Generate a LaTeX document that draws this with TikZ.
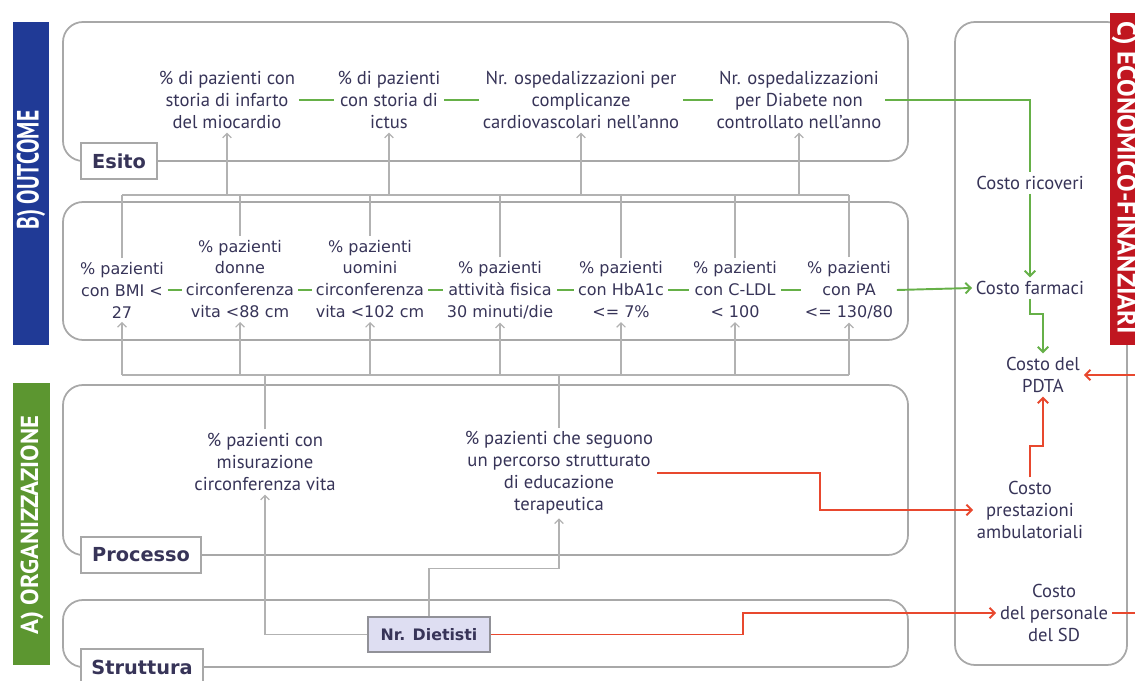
\documentclass[tikz,border=0pt]{standalone}
\usepackage{fontspec}
\setmainfont{PT Sans}
\newfontfamily\verdfont{DejaVu Sans}
\usepackage{xcolor}
\definecolor{pdNavy}{RGB}{55,52,88}
\definecolor{pdBlue}{RGB}{32,58,150}
\definecolor{pdGreen}{RGB}{92,150,48}
\definecolor{pdRed}{RGB}{192,22,32}
\definecolor{lnGreen}{RGB}{102,176,72}
\definecolor{lnRed}{RGB}{232,72,46}
\definecolor{lnGray}{RGB}{178,178,178}
\definecolor{boxGray}{RGB}{168,168,168}
\definecolor{dietFill}{RGB}{222,222,242}
\usetikzlibrary{arrows.meta, positioning, calc}

\tikzset{
  kpi/.style={font=\fontsize{10.6}{12.5}\selectfont, text=pdNavy, align=center, inner sep=2pt},
  kpimid/.style={font=\verdfont\fontsize{9.1}{12.5}\selectfont, text=pdNavy, align=center, inner sep=2pt},
  tag/.style={draw=boxGray, line width=0.8pt, fill=white, font=\verdfont\bfseries\fontsize{11}{12}\selectfont,
              text=pdNavy, minimum height=0.72cm, inner sep=2pt},
  bartext/.style={font=\bfseries, white, inner sep=0pt},
  areabox/.style={draw=boxGray, line width=1pt, rounded corners=0.4cm},
  grayline/.style={draw=lnGray, line width=0.7pt},
  grayarr/.style={grayline, -{Straight Barb[length=2.5pt,width=5pt]}},
  greenline/.style={draw=lnGreen, line width=1.1pt},
  greenarr/.style={greenline, -{Straight Barb[length=3pt,width=6pt]}},
  redarr/.style={draw=lnRed, line width=1.1pt, -{Straight Barb[length=3pt,width=6pt]}}
}

\begin{document}
\begin{tikzpicture}
  \useasboundingbox (0,0) rectangle (22.7,13.6);

  % Area boxes
  \draw[areabox] (1.26,10.38) rectangle (18.16,13.16);
  \draw[areabox] (1.26,6.8) rectangle (18.16,9.56);
  \draw[areabox] (1.26,2.5) rectangle (18.16,5.9);
  \draw[areabox] (1.26,0.26) rectangle (18.16,1.6);
  \draw[areabox] (19.1,0.3) rectangle (22.54,13.16);

  % Side bars
  \fill[pdBlue] (0.26,6.7) rectangle (0.98,13.16);
  \node[bartext, rotate=90] (barB) at (0.62,10.2)
       {\fontsize{17.5}{18}\selectfont\scalebox{0.7}[1]{B) OUTCOME}};
  \fill[pdGreen] (0.26,0.3) rectangle (1.0,5.94);
  \node[bartext, rotate=90] (barA) at (0.64,3.1)
       {\fontsize{14}{16}\selectfont A) ORGANIZZAZIONE};
  \fill[pdRed] (22.2,6.7) rectangle (22.8,13.34);
  \node[bartext, rotate=-90] (barC) at (22.48,10.04)
       {\fontsize{15}{17}\selectfont C) ECONOMICO-FINANZIARI};

  % Area labels
  \node[tag, minimum width=1.52cm] (lblEsito) at (2.38,10.38) {Esito};
  \node[tag, minimum width=2.4cm] (lblProc) at (2.82,2.5) {Processo};
  \node[tag, minimum width=2.44cm] (lblStrut) at (2.84,0.26) {Struttura};

  % Esito
  \node[kpi] (infarto) at (4.54,11.6) {\% di pazienti con\\storia di infarto\\del miocardio};
  \node[kpi] (ictus) at (7.78,11.6) {\% di pazienti\\con storia di\\ictus};
  \node[kpi] (cardio) at (11.62,11.6) {Nr. ospedalizzazioni per\\complicanze\\cardiovascolari nell’anno};
  \node[kpi] (diabete) at (15.98,11.6) {Nr. ospedalizzazioni\\per Diabete non\\controllato nell’anno};

  % Outcome intermedi
  \node[kpimid] (mBMI) at (2.44,7.8) {\% pazienti\\con BMI <\\27};
  \node[kpimid] (mDonne) at (4.8,8.02) {\% pazienti\\donne\\circonferenza\\vita <88 cm};
  \node[kpimid] (mUomini) at (7.4,8.02) {\% pazienti\\uomini\\circonferenza\\vita <102 cm};
  \node[kpimid] (mAtt) at (10.0,7.8) {\% pazienti\\attività fisica\\30 minuti/die};
  \node[kpimid] (mHb) at (12.42,7.8) {\% pazienti\\con HbA1c\\<= 7\%};
  \node[kpimid] (mLDL) at (14.7,7.8) {\% pazienti\\con C-LDL\\< 100};
  \node[kpimid] (mPA) at (16.98,7.8) {\% pazienti\\con PA\\<= 130/80};

  % Processo
  \node[kpi] (misura) at (5.3,4.36) {\% pazienti con\\misurazione\\circonferenza vita};
  \node[kpi] (educa) at (11.18,4.14) {\% pazienti che seguono\\un percorso strutturato\\di educazione\\terapeutica};

  % Struttura
  \node[draw=boxGray!80!pdNavy, line width=0.8pt, fill=dietFill, font=\verdfont\bfseries\fontsize{9}{11}\selectfont,
        text=pdNavy, minimum width=2.44cm, minimum height=0.7cm] (dietisti) at (8.58,0.91) {Nr. Dietisti};

  % Costi
  \node[kpi] (ricoveri) at (20.6,9.94) {Costo ricoveri};
  \node[kpi] (farmaci) at (20.6,7.84) {Costo farmaci};
  \node[kpi] (pdta) at (20.86,6.1) {Costo del\\PDTA};
  \node[kpi] (prestaz) at (20.6,3.4) {Costo\\prestazioni\\ambulatoriali};
  \node[kpi] (personale) at (21.08,1.34) {Costo\\del personale\\del SD};

  % Bus lines
  \coordinate (ubus) at (0,9.7);
  \coordinate (lbus) at (0,6.1);
  \coordinate (bendA) at (16.4,0);
  \coordinate (bendB) at (14.86,0);
  \coordinate (bendC) at (22.76,0);

  % Intermedi -> Esito
  \draw[grayline] (mBMI.north) -- (mBMI.north |- ubus);
  \draw[grayline] (mDonne.north) -- (mDonne.north |- ubus);
  \draw[grayline] (mUomini.north) -- (mUomini.north |- ubus);
  \draw[grayline] (mAtt.north) -- (mAtt.north |- ubus);
  \draw[grayline] (mHb.north) -- (mHb.north |- ubus);
  \draw[grayline] (mLDL.north) -- (mLDL.north |- ubus);
  \draw[grayline] (mPA.north) -- (mPA.north |- ubus);
  \draw[grayline] (mBMI.north |- ubus) -- (mPA.north |- ubus);
  \draw[grayarr] (infarto.south |- ubus) -- (infarto.south);
  \draw[grayarr] (ictus.south |- ubus) -- (ictus.south);
  \draw[grayarr] (cardio.south |- ubus) -- (cardio.south);
  \draw[grayarr] (diabete.south |- ubus) -- (diabete.south);

  % Processo -> Intermedi
  \draw[grayline] (misura.north) -- (misura.north |- lbus);
  \draw[grayline] (educa.north) -- (educa.north |- lbus);
  \draw[grayline] (mBMI.south |- lbus) -- (mPA.south |- lbus);
  \draw[grayarr] (mBMI.south |- lbus) -- (mBMI.south);
  \draw[grayarr] (mDonne.south |- lbus) -- (mDonne.south);
  \draw[grayarr] (mUomini.south |- lbus) -- (mUomini.south);
  \draw[grayarr] (mAtt.south |- lbus) -- (mAtt.south);
  \draw[grayarr] (mHb.south |- lbus) -- (mHb.south);
  \draw[grayarr] (mLDL.south |- lbus) -- (mLDL.south);
  \draw[grayarr] (mPA.south |- lbus) -- (mPA.south);

  % Struttura -> Processo
  \draw[grayarr] (dietisti.west) -| (misura.south);
  \draw[grayarr] (dietisti.north) -- ++(0,0.96) -| (educa.south);

  % Green links
  \draw[greenline] (infarto.east) -- (ictus.west);
  \draw[greenline] (ictus.east) -- (cardio.west);
  \draw[greenline] (cardio.east) -- (diabete.west);
  \draw[greenline] (mBMI.east) -- (mBMI.east -| mDonne.west);
  \draw[greenline] (mDonne.east |- mBMI.east) -- (mUomini.west |- mBMI.east);
  \draw[greenline] (mUomini.east |- mAtt.west) -- (mAtt.west);
  \draw[greenline] (mAtt.east) -- (mHb.west);
  \draw[greenline] (mHb.east) -- (mLDL.west);
  \draw[greenline] (mLDL.east) -- (mPA.west);
  \draw[greenline] (diabete.east) -| (ricoveri.north);
  \draw[greenarr] (ricoveri.south) -- (farmaci.north);
  \draw[greenarr] (mPA.east) -- (farmaci.west);
  \draw[greenarr] (farmaci.south) -- ++(0,-0.3) -| (pdta.north);

  % Red links
  \draw[redarr] (educa.east) -- (educa.east -| bendA) |- (prestaz.west);
  \draw[redarr] (dietisti.east) -- (dietisti.east -| bendB) |- (personale.west);
  \draw[redarr] (prestaz.north) -- ++(0,0.62) -| (pdta.south);
  \draw[redarr] (personale.east) -- (personale.east -| bendC) |- (pdta.east);
\end{tikzpicture}
\end{document}
